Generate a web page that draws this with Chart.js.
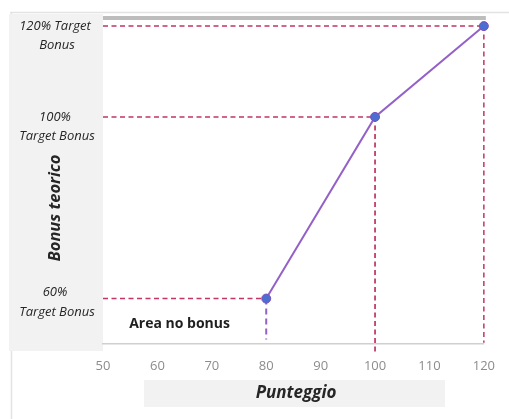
<!DOCTYPE html>
<html>
<head>
<meta charset="utf-8">
<script src="https://cdn.jsdelivr.net/npm/chart.js@4/dist/chart.umd.min.js"></script>
<style>
  html, body { margin: 0; padding: 0; background: #ffffff; }
  #wrap { width: 509px; height: 419px; position: relative; }
</style>
</head>
<body>
<div id="wrap"><canvas id="c" width="509" height="419"></canvas></div>
<script>
// Score (x) and theoretical bonus in % of target (y)
const scores = [80, 100, 120];
const bonusPct = [60, 100, 120];

// Y-axis level labels (two lines each)
const levelValues = [120, 100, 60];
const levelLine1 = ['120% Target', '100%', '60%'];
const levelLine2 = ['Bonus', 'Target Bonus', 'Target Bonus'];

// X-axis tick range
const xMin = 50, xMax = 120, xStep = 10;
const yMin = 50, yMax = 122;

const xTitle = 'Punteggio';
const yTitle = 'Bonus teorico';
const noBonusText = 'Area no bonus';

const FONT = '"Open Sans", "Liberation Sans", sans-serif';
const guideColor = '#c23566';
const lineColor = '#9461c9';

const points = scores.map((s, i) => ({ x: s, y: bonusPct[i] }));

// Dashed guides: horizontal from the axis to each point, vertical from the point down
const guides = [];
points.forEach((p) => {
  guides.push({
    data: [{ x: xMin, y: p.y }, { x: p.x, y: p.y }],
    borderColor: guideColor, borderWidth: 1.5, borderDash: [5, 3.5]
  });
});
guides.push({ data: [{ x: 100, y: 100 }, { x: 100, y: 48 }], borderColor: '#b5184a', borderWidth: 1.5, borderDash: [5, 3.5] });
guides.push({ data: [{ x: 120, y: 120 }, { x: 120, y: 50.3 }], borderColor: guideColor, borderWidth: 1.5, borderDash: [5, 3.5] });
guides.push({ data: [{ x: 80, y: 60 }, { x: 80, y: 51 }], borderColor: lineColor, borderWidth: 2, borderDash: [6, 4] });

const guideSets = guides.map(g => Object.assign({
  type: 'line', pointRadius: 0, fill: false, clip: false, order: 2
}, g));

const decor = {
  id: 'decor',
  beforeDraw(chart) {
    const ctx = chart.ctx;
    const a = chart.chartArea;
    ctx.save();
    // outer frame lines
    ctx.strokeStyle = '#e3e3e3';
    ctx.lineWidth = 1.5;
    ctx.beginPath();
    ctx.moveTo(10, 12.5); ctx.lineTo(509, 12.5);
    ctx.moveTo(11.5, 12); ctx.lineTo(11.5, 419);
    ctx.stroke();
    // left label panel
    ctx.fillStyle = '#f2f2f2';
    ctx.fillRect(9, 14, a.left - 9, 337);
    // x title band
    ctx.fillRect(144, 380, 301, 27);
    // plot area
    ctx.fillStyle = '#ffffff';
    ctx.fillRect(a.left, a.top, a.right - a.left, a.bottom - a.top);
    // top bar of plot
    ctx.fillStyle = '#bdbdbd';
    ctx.fillRect(a.left, a.top - 1, a.right - a.left + 2, 4);
    ctx.restore();
  },
  afterDraw(chart) {
    const ctx = chart.ctx;
    const y = chart.scales.y;
    const x = chart.scales.x;
    ctx.save();
    ctx.fillStyle = '#262626';
    ctx.textAlign = 'center';
    ctx.textBaseline = 'middle';
    levelValues.forEach((v, i) => {
      const py = y.getPixelForValue(v);
      const off = v === 60 ? -6 : 0;
      ctx.font = 'italic 13px ' + FONT;
      ctx.fillText(levelLine1[i], 55, py + off);
      ctx.fillText(levelLine2[i], 57, py + off + 19.5);
    });
    // axis titles
    ctx.font = 'bold italic 17px ' + FONT;
    ctx.fillText(xTitle, 296, 393);
    ctx.font = 'bold italic 16.5px ' + FONT;
    ctx.save();
    ctx.translate(55, 208);
    ctx.rotate(-Math.PI / 2);
    ctx.fillText(yTitle, 0, 0);
    ctx.restore();
    // no-bonus area caption
    ctx.font = 'bold 14px ' + FONT;
    ctx.fillStyle = '#1f1f1f';
    ctx.textAlign = 'left';
    ctx.fillText(noBonusText, x.getPixelForValue(55) - 1, y.getPixelForValue(54.5));
    ctx.restore();
  }
};

new Chart(document.getElementById('c'), {
  type: 'line',
  data: {
    datasets: [
      {
        data: points,
        borderColor: lineColor,
        borderWidth: 2,
        pointRadius: 4.5,
        pointBackgroundColor: '#4a6fd0',
        pointBorderColor: '#7b4fc0',
        pointBorderWidth: 1,
        clip: false,
        order: 1
      },
      ...guideSets
    ]
  },
  options: {
    responsive: false,
    animation: false,
    events: [],
    layout: { padding: { left: 103, right: 22, top: 17, bottom: 0 } },
    plugins: { legend: { display: false }, tooltip: { enabled: false } },
    scales: {
      x: {
        type: 'linear',
        min: xMin, max: xMax,
        afterFit(s) { s.height = 75; },
        grid: { display: false, drawTicks: false },
        border: { display: true, color: '#d0d0d0', width: 1.5 },
        ticks: {
          stepSize: xStep,
          padding: 14,
          color: '#8c8c8c',
          font: { family: FONT, size: 13 },
          maxRotation: 0
        }
      },
      y: {
        type: 'linear',
        min: yMin, max: yMax,
        display: false
      }
    }
  },
  plugins: [decor]
});
</script>
</body>
</html>
